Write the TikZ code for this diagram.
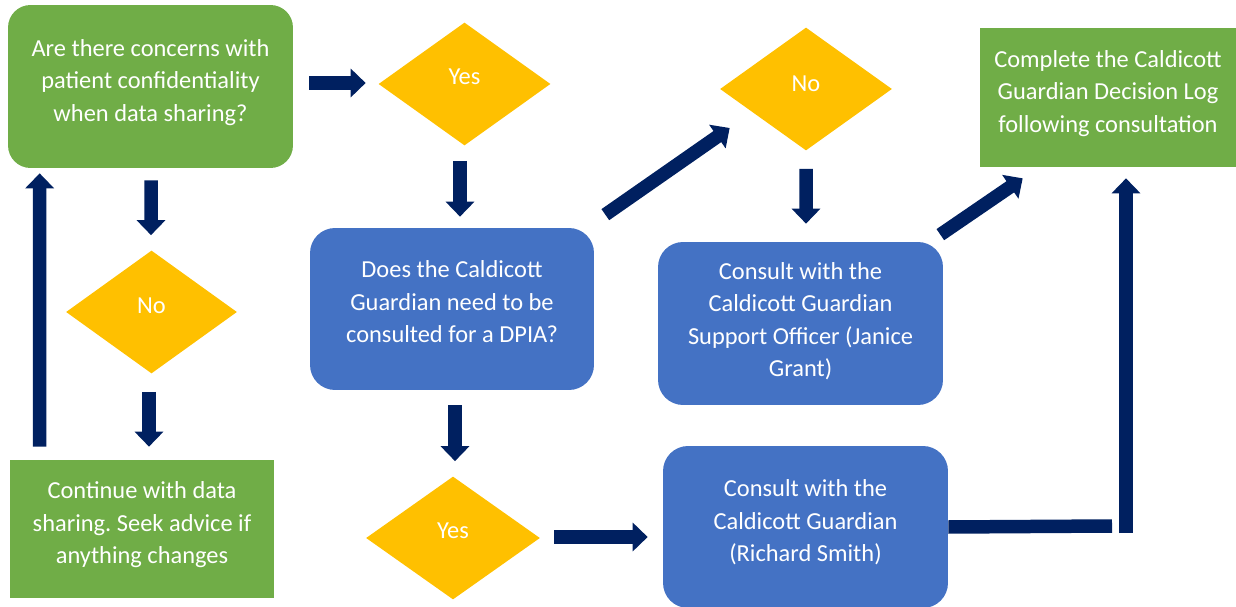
\documentclass[tikz,border=0pt]{standalone}
\usepackage{fontspec}
\setmainfont{Carlito}
\usetikzlibrary{shapes.geometric,arrows.meta,calc}
\frenchspacing

\definecolor{boxgreen}{HTML}{70AD47}
\definecolor{boxblue}{HTML}{4472C4}
\definecolor{decgold}{HTML}{FFC000}
\definecolor{arrownavy}{HTML}{002060}

% text of a box, set a little above its middle
\newcommand{\boxlines}[2][0.36cm]{\begin{tabular}[b]{@{}c@{}}#2\end{tabular}\rule[-#1]{0pt}{#1}}

\tikzset{
  flowtext/.style={text=white,align=center,inner sep=0pt,font=\fontsize{13.9pt}{18.5pt}\selectfont},
  greenbox/.style={flowtext,fill=boxgreen},
  bluebox/.style={flowtext,fill=boxblue,rounded corners=0.5cm,minimum width=5.7cm},
  decision/.style={flowtext,fill=decgold,diamond,minimum width=3.44cm,minimum height=2.46cm},
  blockarrow/.style={draw=arrownavy,line width=0.27cm,-{Triangle[width=0.56cm,length=0.3cm]}},
  blockline/.style={draw=arrownavy,line width=0.27cm}
}

\begin{document}
\begin{tikzpicture}[x=0.02cm,y=-0.02cm]
\useasboundingbox (0,0) rectangle (1236,607);
% boxes
\node[greenbox,rounded corners=0.45cm,minimum width=5.7cm,minimum height=3.26cm] (ask) at (150.5,86.5)
  {\boxlines{Are there concerns with\\patient confidentiality\\when data sharing?}};
\node[decision] (yestop) at (464.5,84) {\raisebox{0.28cm}{Yes}};
\node[bluebox,minimum height=3.24cm,minimum width=5.68cm] (dpia) at (452,309)
  {\boxlines[0.4cm]{Does the Caldicott\\Guardian need to be\\consulted for a DPIA?}};
\node[decision] (notop) at (806,89) {\raisebox{0.2cm}{No}};
\node[bluebox,minimum height=3.26cm] (support) at (800.5,323.5)
  {\boxlines[0.28cm]{Consult with the\\Caldicott Guardian\\Support Officer (Janice\\Grant)}};
\node[greenbox,minimum width=5.12cm,minimum height=2.78cm] (decisionlog) at (1108,97.5)
  {\boxlines{Complete the Caldicott\\Guardian Decision Log\\following consultation}};
\node[bluebox,minimum height=3.24cm] (richard) at (805.5,527)
  {\boxlines{Consult with the\\Caldicott Guardian\\(Richard Smith)}};
\node[decision,minimum width=3.48cm] (yesbot) at (453,538) {\raisebox{0.28cm}{Yes}};
\node[decision,minimum width=3.42cm] (noleft) at (151.5,312) {\raisebox{0.24cm}{No}};
\node[greenbox,minimum width=5.28cm,minimum height=2.76cm] (continue) at (142,529)
  {\boxlines{Continue with data\\sharing. Seek advice if\\anything changes}};
\coordinate (elbow) at (1126,533);
% arrows
\draw[blockarrow] ($(ask.east)+(16,-3.5)$) -- ($(yestop.west)+(-12.5,-1)$);
\draw[blockarrow] ($(yestop.south)+(-4.5,15)$) -- ($(dpia.north)+(8,-11)$);
\draw[blockarrow] ($(dpia.north east)+(11,-13)$) -- ($(notop.west)+(10,39)$);
\draw[blockarrow] ($(notop.south)+(0,18)$) -- ($(support.north)+(5.5,-18)$);
\draw[blockarrow] ($(support.north east)+(-3,-7)$) -- ($(decisionlog.south west)+(43,11)$);
\draw[blockarrow] ($(dpia.south)+(3,15)$) -- ($(yesbot.north)+(2,-15)$);
\draw[blockarrow] ($(yesbot.east)+(14,-1)$) -- ($(richard.west)+(-15,10)$);
\draw[blockline] (richard.east) -- ($(elbow)+(-14,-7)$);
\draw[blockarrow] (elbow) -- ($(decisionlog.south)+(18,11)$);
\draw[blockarrow] ($(ask.south)+(0.5,12)$) -- ($(noleft.north)+(-0.5,-15)$);
\draw[blockarrow] ($(noleft.south)+(-2.5,18)$) -- ($(continue.north)+(7,-13)$);
\draw[blockarrow] ($(continue.north west)+(30,-13)$) -- ($(ask.south west)+(32,5)$);
\end{tikzpicture}
\end{document}
